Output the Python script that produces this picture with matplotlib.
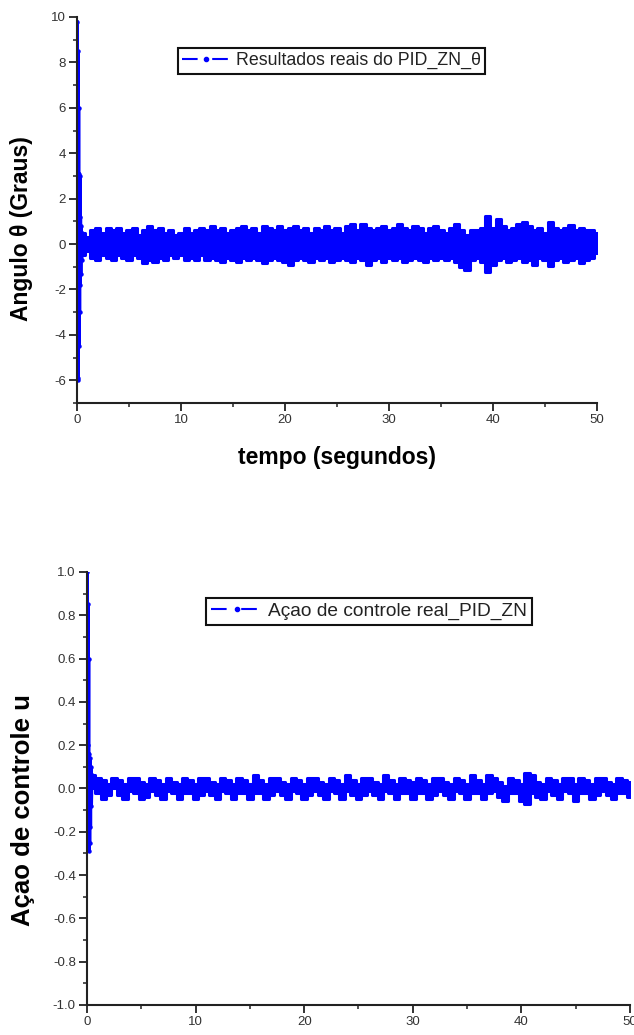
#!/usr/bin/env python3
"""Real PID (Ziegler-Nichols) response: angle theta and control action u."""

import numpy as np
import matplotlib
matplotlib.use('Agg')
import matplotlib.pyplot as plt
from matplotlib.lines import Line2D
from matplotlib.ticker import MultipleLocator, FormatStrFormatter

plt.rcParams['font.family'] = ['Liberation Sans', 'DejaVu Sans']
plt.rcParams['axes.unicode_minus'] = False

BLUE = '#0000ff'

# sample times of the band envelopes (s)
t_band = [0.5 * (i + 1) for i in range(100)]

# initial transient of the angle (degrees)
theta_t0 = [0.0, 0.03, 0.06, 0.09, 0.12, 0.15, 0.18, 0.21, 0.24, 0.27, 0.30, 0.33, 0.36, 0.40, 0.44, 0.48]
theta_v0 = [0.0, 9.8, -5.9, 8.5, -6.0, 6.0, -4.5, 3.1, -3.0, 3.0, -1.8, 1.2, -1.3, 0.8, -0.7, 0.5]

# upper / lower envelope of the angle oscillation (degrees)
theta_upper = [
    0.5, 0.3, 0.6, 0.7, 0.5, 0.7, 0.6, 0.7, 0.5, 0.6,
    0.7, 0.4, 0.6, 0.8, 0.6, 0.7, 0.5, 0.6, 0.4, 0.5,
    0.7, 0.5, 0.6, 0.7, 0.6, 0.8, 0.6, 0.7, 0.5, 0.6,
    0.7, 0.8, 0.6, 0.7, 0.5, 0.8, 0.7, 0.6, 0.8, 0.6,
    0.7, 0.8, 0.6, 0.7, 0.5, 0.7, 0.6, 0.8, 0.6, 0.7,
    0.5, 0.8, 0.9, 0.6, 0.9, 0.7, 0.6, 0.7, 0.8, 0.6,
    0.7, 0.9, 0.7, 0.6, 0.8, 0.7, 0.5, 0.7, 0.8, 0.6,
    0.5, 0.7, 0.9, 0.6, 0.4, 0.6, 0.6, 0.7, 1.25, 0.7,
    1.1, 0.8, 0.6, 0.7, 0.9, 0.95, 0.8, 0.6, 0.7, 0.5,
    0.95, 0.7, 0.6, 0.7, 0.85, 0.6, 0.7, 0.6, 0.6, 0.5,
]
theta_lower = [
    -0.5, -0.3, -0.6, -0.7, -0.5, -0.6, -0.7, -0.5, -0.6, -0.7,
    -0.5, -0.6, -0.85, -0.7, -0.8, -0.6, -0.7, -0.5, -0.6, -0.5,
    -0.7, -0.6, -0.7, -0.5, -0.7, -0.6, -0.7, -0.8, -0.6, -0.7,
    -0.8, -0.6, -0.7, -0.6, -0.7, -0.85, -0.7, -0.6, -0.7, -0.8,
    -0.9, -0.7, -0.6, -0.7, -0.8, -0.6, -0.7, -0.6, -0.8, -0.7,
    -0.6, -0.7, -0.8, -0.6, -0.7, -0.9, -0.7, -0.6, -0.8, -0.6,
    -0.7, -0.6, -0.8, -0.7, -0.6, -0.7, -0.8, -0.6, -0.7, -0.6,
    -0.7, -0.6, -0.8, -1.0, -1.15, -0.7, -0.6, -0.8, -1.25, -0.9,
    -0.7, -0.6, -0.8, -0.7, -0.6, -0.8, -0.7, -0.9, -0.6, -0.7,
    -0.95, -0.7, -0.6, -0.8, -0.7, -0.6, -0.85, -0.7, -0.6, -0.4,
]

# initial transient of the control action
u_t0 = [0.0, 0.03, 0.06, 0.09, 0.12, 0.15, 0.18, 0.21, 0.24, 0.28, 0.32, 0.36, 0.40, 0.45]
u_v0 = [0.0, 1.0, 0.2, 0.85, -0.1, 0.6, -0.29, 0.16, -0.25, 0.14, -0.18, 0.1, -0.08, 0.06]

u_upper = [
    0.06, 0.05, 0.04, 0.02, 0.05, 0.04, 0.02, 0.05, 0.05, 0.03,
    0.02, 0.05, 0.04, 0.02, 0.05, 0.03, 0.02, 0.05, 0.04, 0.02,
    0.05, 0.05, 0.03, 0.02, 0.05, 0.04, 0.02, 0.05, 0.04, 0.02,
    0.06, 0.04, 0.02, 0.05, 0.05, 0.03, 0.02, 0.05, 0.04, 0.02,
    0.05, 0.05, 0.03, 0.02, 0.05, 0.04, 0.02, 0.06, 0.04, 0.02,
    0.05, 0.05, 0.03, 0.02, 0.06, 0.04, 0.02, 0.05, 0.04, 0.03,
    0.05, 0.04, 0.02, 0.05, 0.05, 0.03, 0.02, 0.05, 0.04, 0.02,
    0.06, 0.04, 0.02, 0.06, 0.05, 0.03, 0.01, 0.05, 0.04, 0.02,
    0.07, 0.06, 0.03, 0.02, 0.05, 0.04, 0.02, 0.05, 0.05, 0.02,
    0.05, 0.04, 0.02, 0.05, 0.05, 0.03, 0.02, 0.05, 0.04, 0.03,
]
u_lower = [
    0.00, -0.02, -0.05, -0.03, 0.00, -0.03, -0.05, -0.01, -0.02, -0.05,
    -0.04, -0.01, -0.03, -0.05, -0.01, -0.02, -0.05, -0.02, -0.02, -0.05,
    -0.03, -0.01, -0.03, -0.05, -0.01, -0.02, -0.05, -0.02, -0.02, -0.05,
    -0.02, -0.02, -0.05, -0.03, -0.01, -0.03, -0.05, -0.01, -0.02, -0.05,
    -0.03, -0.01, -0.03, -0.05, -0.01, -0.02, -0.05, -0.01, -0.03, -0.05,
    -0.03, -0.01, -0.03, -0.05, -0.01, -0.02, -0.05, -0.02, -0.02, -0.05,
    -0.02, -0.02, -0.05, -0.03, -0.01, -0.03, -0.05, -0.01, -0.02, -0.05,
    -0.02, -0.02, -0.05, -0.02, -0.01, -0.04, -0.06, -0.02, -0.02, -0.06,
    -0.07, -0.02, -0.04, -0.05, -0.01, -0.03, -0.05, -0.01, -0.02, -0.06,
    -0.02, -0.02, -0.05, -0.03, -0.01, -0.03, -0.05, -0.02, -0.02, -0.04,
]


def style_axes(ax, ymajor, yminor):
    for side in ('top', 'right'):
        ax.spines[side].set_visible(False)
    for side in ('left', 'bottom'):
        ax.spines[side].set_linewidth(1.5)
        ax.spines[side].set_color('#222222')
    ax.xaxis.set_major_locator(MultipleLocator(10))
    ax.xaxis.set_minor_locator(MultipleLocator(5))
    ax.yaxis.set_major_locator(MultipleLocator(ymajor))
    ax.yaxis.set_minor_locator(MultipleLocator(yminor))
    ax.tick_params(which='major', direction='out', length=5.5, width=1.3,
                   color='#222222', labelsize=9.5, labelcolor='#333333', pad=2.5)
    ax.tick_params(which='minor', direction='out', length=3, width=1.1, color='#222222')


def draw_signal(ax, t0, v0, upper, lower):
    ax.plot(t0 + [t_band[0]], v0 + [0.5 * (upper[0] + lower[0])],
            color=BLUE, lw=2.4, marker='o', ms=2.2)
    ax.fill_between(t_band, lower, upper, step='mid', color=BLUE,
                    edgecolor=BLUE, lw=2.2)


def add_legend(ax, label, x0, y0, size):
    handle = Line2D([], [], color=BLUE, lw=1.5, ls=(0, (7.5, 7.0)),
                    marker='o', ms=3.0)
    leg = ax.legend([handle], [label], loc='upper left', bbox_to_anchor=(x0, y0),
                    fontsize=size, handlelength=2.7, handletextpad=0.3,
                    borderpad=0.25, borderaxespad=0, numpoints=1,
                    fancybox=False, framealpha=1)
    leg.get_frame().set_edgecolor('#111111')
    leg.get_frame().set_linewidth(1.5)
    for txt in leg.get_texts():
        txt.set_color('#222222')


fig = plt.figure(figsize=(6.34, 10.35), dpi=100)

# top: angle theta
ax1 = fig.add_axes([0.1215, 0.6106, 0.820, 0.373])
draw_signal(ax1, theta_t0, theta_v0, theta_upper, theta_lower)
ax1.set_xlim(0, 50)
ax1.set_ylim(-7, 10)
style_axes(ax1, 2, 1)
ax1.set_ylabel('Angulo θ (Graus)', fontsize=16.5, fontweight='bold')
ax1.yaxis.set_label_coords(-0.085, 0.453)
ax1.set_xlabel('tempo (segundos)', fontsize=16.5, fontweight='bold', labelpad=14)
add_legend(ax1, 'Resultados reais do PID_ZN_θ', 0.194, 0.92, 12.8)

# bottom: control action u
ax2 = fig.add_axes([0.1372, 0.0290, 0.8565, 0.4184])
draw_signal(ax2, u_t0, u_v0, u_upper, u_lower)
ax2.set_xlim(0, 50)
ax2.set_ylim(-1, 1)
style_axes(ax2, 0.2, 0.1)
ax2.yaxis.set_major_formatter(FormatStrFormatter('%.1f'))
ax2.set_ylabel('Açao de controle u', fontsize=18.5, fontweight='bold')
ax2.yaxis.set_label_coords(-0.096, 0.45)
add_legend(ax2, 'Açao de controle real_PID_ZN', 0.219, 0.94, 13.8)

fig.savefig('out.png', dpi=100)
